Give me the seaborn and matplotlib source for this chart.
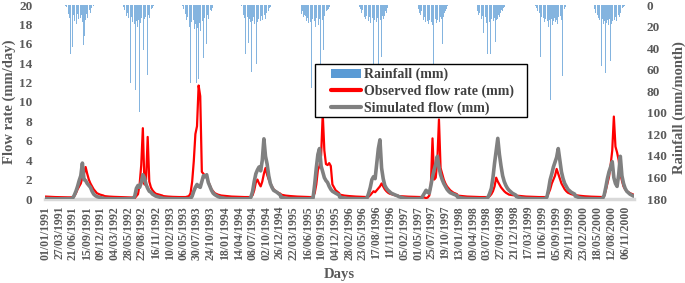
import pandas as pd
import seaborn as sns
import matplotlib.pyplot as plt
from matplotlib.lines import Line2D
from matplotlib.patches import Patch, Rectangle

years = list(range(1991, 2001))

# day-of-year sample points
flow_doy = [0, 30, 60, 100, 140, 160, 170, 180, 190, 200, 210, 220,
            230, 240, 250, 260, 270, 280, 290, 300, 310, 320, 340, 362]

# observed flow rate (mm/day), one row per year
observed = [
    0.25, 0.22, 0.20, 0.18, 0.17, 0.17, 0.20, 0.30, 0.60, 1.00, 1.30, 1.60, 2.20, 2.60, 3.30, 2.60, 2.00, 1.60, 1.30, 1.00, 0.80, 0.60, 0.45, 0.35,
    0.30, 0.25, 0.22, 0.20, 0.18, 0.17, 0.16, 0.15, 0.10, 0.30, 0.50, 1.50, 3.50, 7.30, 1.50, 2.00, 6.40, 1.80, 1.20, 0.90, 0.70, 0.55, 0.45, 0.35,
    0.30, 0.25, 0.22, 0.20, 0.20, 0.30, 0.60, 1.80, 3.90, 6.70, 7.50, 11.70, 10.60, 2.80, 2.60, 2.40, 2.30, 1.80, 1.40, 1.00, 0.80, 0.60, 0.45, 0.35,
    0.35, 0.30, 0.25, 0.22, 0.20, 0.20, 0.20, 0.25, 0.40, 0.90, 1.70, 2.00, 1.60, 1.30, 1.80, 2.60, 3.20, 2.50, 2.00, 1.60, 1.30, 1.00, 0.70, 0.55,
    0.45, 0.35, 0.30, 0.25, 0.22, 0.20, 0.20, 0.20, 0.20, 0.25, 0.60, 1.50, 3.00, 3.40, 4.50, 8.80, 5.00, 3.60, 3.50, 3.70, 3.40, 1.50, 0.90, 0.60,
    0.45, 0.35, 0.30, 0.25, 0.22, 0.20, 0.20, 0.25, 0.40, 0.60, 0.80, 0.70, 0.90, 1.10, 1.30, 1.60, 1.30, 1.00, 0.80, 0.65, 0.55, 0.50, 0.40, 0.35,
    0.30, 0.27, 0.24, 0.22, 0.20, 0.15, 0.10, 0.15, 0.35, 1.50, 6.25, 2.00, 2.20, 4.00, 8.20, 3.20, 2.60, 2.00, 1.60, 1.30, 1.10, 0.90, 0.65, 0.50,
    0.35, 0.30, 0.25, 0.22, 0.20, 0.20, 0.20, 0.20, 0.20, 0.30, 0.50, 0.80, 1.30, 2.20, 1.80, 1.50, 1.20, 1.00, 0.80, 0.65, 0.55, 0.45, 0.40, 0.35,
    0.35, 0.30, 0.25, 0.22, 0.20, 0.20, 0.20, 0.20, 0.25, 0.60, 1.00, 1.60, 2.00, 2.40, 3.10, 2.60, 2.10, 1.60, 1.30, 1.00, 0.80, 0.65, 0.50, 0.40,
    0.40, 0.33, 0.28, 0.24, 0.22, 0.20, 0.20, 0.30, 0.90, 1.60, 2.30, 3.50, 5.00, 8.50, 5.40, 4.80, 4.00, 2.60, 1.90, 1.30, 1.00, 0.80, 0.60, 0.45,
]

# simulated flow (mm/day), one row per year
simulated = [
    0.05, 0.03, 0.02, 0.02, 0.02, 0.03, 0.10, 0.40, 0.80, 1.30, 1.90, 2.40, 3.70, 2.00, 1.90, 1.60, 1.40, 1.20, 0.80, 0.50, 0.35, 0.25, 0.15, 0.08,
    0.05, 0.03, 0.02, 0.02, 0.02, 0.02, 0.03, 0.05, 0.30, 1.10, 1.40, 1.20, 1.70, 2.50, 2.20, 1.50, 1.10, 0.80, 0.70, 0.50, 0.40, 0.30, 0.20, 0.10,
    0.08, 0.04, 0.03, 0.02, 0.02, 0.03, 0.05, 0.30, 0.80, 1.20, 1.50, 1.30, 1.20, 1.80, 2.40, 2.30, 2.50, 1.70, 1.30, 0.90, 0.60, 0.45, 0.25, 0.12,
    0.12, 0.05, 0.03, 0.02, 0.02, 0.02, 0.03, 0.20, 0.80, 1.80, 2.60, 3.00, 3.30, 2.90, 4.00, 6.20, 4.40, 3.60, 2.40, 1.60, 1.20, 0.90, 0.70, 0.40,
    0.20, 0.08, 0.04, 0.03, 0.02, 0.02, 0.02, 0.03, 0.05, 0.10, 1.50, 3.20, 4.60, 5.20, 3.40, 2.80, 2.20, 1.90, 1.70, 1.30, 1.00, 0.80, 0.60, 0.40,
    0.20, 0.10, 0.05, 0.03, 0.02, 0.03, 0.10, 0.60, 1.20, 2.00, 2.30, 2.10, 3.60, 5.20, 6.10, 3.20, 2.10, 1.40, 1.10, 0.90, 0.75, 0.60, 0.45, 0.30,
    0.25, 0.10, 0.05, 0.03, 0.05, 0.60, 0.90, 0.70, 0.60, 1.40, 2.30, 3.00, 3.60, 4.40, 3.30, 2.50, 2.00, 1.60, 1.30, 1.00, 0.80, 0.65, 0.50, 0.35,
    0.20, 0.10, 0.05, 0.03, 0.02, 0.02, 0.03, 0.05, 0.20, 0.60, 1.10, 2.20, 3.70, 5.00, 6.25, 4.60, 3.40, 2.40, 1.80, 1.40, 1.10, 0.90, 0.60, 0.40,
    0.25, 0.10, 0.05, 0.03, 0.02, 0.02, 0.03, 0.05, 0.20, 1.00, 2.00, 2.60, 3.30, 3.80, 4.30, 5.20, 4.00, 2.80, 2.10, 1.60, 1.30, 1.00, 0.70, 0.50,
    0.30, 0.12, 0.05, 0.03, 0.02, 0.02, 0.05, 0.40, 1.20, 2.10, 2.80, 3.30, 3.85, 2.20, 1.60, 1.30, 2.50, 4.40, 2.40, 1.60, 1.10, 0.80, 0.50, 0.30,
]

# rainfall (mm), wet season every 5 days from day 120 to 305
rain_doy = list(range(120, 310, 5))
rainfall = [
    0, 1, 2, 4, 6, 8, 12, 45, 10, 14, 39, 9, 15, 26, 11, 18, 8, 13, 10, 31, 12, 9, 16, 37, 11, 29, 14, 8, 12, 6, 9, 5, 7, 3, 4, 2, 1, 0,
    2, 5, 8, 6, 10, 7, 12, 9, 14, 72, 11, 16, 52, 13, 18, 79, 15, 20, 88, 14, 99, 17, 12, 19, 15, 42, 13, 11, 16, 10, 65, 9, 12, 6, 8, 4, 3, 1,
    1, 4, 7, 10, 8, 14, 11, 17, 13, 20, 72, 16, 62, 19, 14, 22, 18, 72, 15, 21, 69, 17, 24, 13, 19, 15, 49, 12, 18, 10, 36, 9, 13, 7, 9, 5, 6, 3,
    1, 4, 6, 9, 12, 45, 10, 14, 11, 35, 13, 16, 12, 62, 15, 11, 18, 14, 12, 55, 16, 13, 19, 11, 15, 10, 14, 53, 12, 9, 13, 7, 10, 5, 6, 3, 2, 1,
    2, 5, 8, 6, 11, 9, 13, 10, 15, 12, 17, 14, 35, 16, 77, 13, 18, 57, 15, 20, 12, 17, 14, 19, 13, 60, 15, 11, 14, 42, 10, 8, 11, 6, 5, 4, 2, 1,
    0, 2, 4, 7, 5, 9, 8, 11, 13, 10, 35, 12, 15, 11, 17, 13, 16, 12, 57, 14, 18, 13, 16, 12, 57, 15, 11, 14, 48, 10, 13, 8, 10, 6, 7, 3, 2, 1,
    2, 4, 7, 9, 6, 12, 10, 14, 11, 16, 13, 62, 15, 18, 14, 20, 102, 16, 19, 70, 15, 21, 13, 17, 14, 42, 12, 16, 11, 13, 36, 9, 11, 7, 6, 4, 2, 1,
    3, 6, 9, 7, 11, 8, 13, 10, 26, 12, 15, 11, 17, 45, 14, 12, 16, 45, 13, 18, 11, 15, 12, 34, 14, 10, 13, 9, 11, 7, 9, 5, 6, 3, 2, 1, 0, 0,
    1, 3, 6, 8, 10, 7, 48, 11, 9, 14, 12, 16, 13, 18, 11, 15, 20, 14, 88, 17, 13, 19, 15, 12, 45, 16, 14, 18, 11, 15, 12, 10, 14, 66, 9, 6, 4, 2,
    4, 7, 10, 41, 9, 12, 14, 11, 16, 57, 13, 18, 15, 20, 63, 17, 14, 19, 16, 13, 52, 18, 15, 12, 17, 14, 11, 15, 10, 13, 9, 11, 7, 8, 5, 3, 2, 1,
]

tick_labels = [
    "01/01/1991", "27/03/1991", "21/06/1991", "15/09/1991", "09/12/1991", "04/03/1992",
    "28/05/1992", "22/08/1992", "16/11/1992", "10/02/1993", "06/05/1993", "30/07/1993",
    "24/10/1993", "18/01/1994", "14/04/1994", "08/07/1994", "02/10/1994", "26/12/1994",
    "22/03/1995", "16/06/1995", "10/09/1995", "04/12/1995", "28/02/1996", "23/05/1996",
    "17/08/1996", "11/11/1996", "05/02/1997", "01/05/1997", "25/07/1997", "19/10/1997",
    "13/01/1998", "09/04/1998", "03/07/1998", "27/09/1998", "21/12/1998", "17/03/1999",
    "11/06/1999", "05/09/1999", "29/11/1999", "23/02/2000", "18/05/2000", "12/08/2000",
    "06/11/2000",
]

# Build tables
flow_rows = []
rain_rows = []
for k, yr in enumerate(years):
    start = pd.Timestamp(f"{yr}-01-01")
    for j, d in enumerate(flow_doy):
        i = k * len(flow_doy) + j
        flow_rows.append((start + pd.Timedelta(days=d), observed[i], simulated[i]))
    for j, d in enumerate(rain_doy):
        rain_rows.append((start + pd.Timedelta(days=d), rainfall[k * len(rain_doy) + j]))
flow = pd.DataFrame(flow_rows, columns=["date", "observed", "simulated"])
rain = pd.DataFrame(rain_rows, columns=["date", "rain"])

sns.set_style("white")
plt.rcParams["font.family"] = ["Liberation Serif", "DejaVu Serif"]
plt.rcParams["font.weight"] = "bold"

txt = "#595959"
fig = plt.figure(figsize=(6.85, 2.83), dpi=100)
ax = fig.add_axes([45 / 685, 1 - 199 / 283, 589 / 685, 194 / 283])
ax2 = ax.twinx()

# Rainfall hanging from the top on the secondary axis
ax2.bar(rain["date"], rain["rain"], width=4, color="#5b9bd5", alpha=0.75, linewidth=0)
ax2.set_ylim(180, 0)
ax2.set_yticks(range(0, 181, 20))
ax2.tick_params(axis="y", length=0, labelsize=9.5, labelcolor=txt, pad=9)
ax2.set_ylabel("Rainfall (mm/month)", fontsize=10.5, color=txt, fontweight="bold", rotation=90)
ax2.yaxis.set_label_coords(1.066, 0.47)

# Flow lines above the bars
ax.set_zorder(ax2.get_zorder() + 1)
ax.patch.set_visible(False)
sns.lineplot(data=flow, x="date", y="observed", ax=ax, color="#ff0000", lw=1.6, zorder=3, legend=False)
sns.lineplot(data=flow, x="date", y="simulated", ax=ax, color="#808080", lw=2.6, zorder=4, legend=False)

ax.set_ylim(0, 20)
ax.set_yticks(range(0, 21, 2))
ax.set_xlim(pd.Timestamp("1990-12-30"), pd.Timestamp("2000-12-31"))
ticks = pd.to_datetime(tick_labels, format="%d/%m/%Y")
ax.set_xticks(ticks)
ax.set_xticklabels(tick_labels, rotation=90, fontsize=8.5, color=txt)
ax.tick_params(axis="x", length=0, pad=5)
ax.tick_params(axis="y", length=0, labelsize=9.5, labelcolor=txt, pad=9)

for a in (ax, ax2):
    for s in a.spines.values():
        s.set_visible(False)
ax.spines["bottom"].set_visible(True)
ax.spines["bottom"].set_color("#d9d9d9")
ax.spines["bottom"].set_linewidth(2.5)

ax.set_ylabel("Flow rate (mm/day)", fontsize=10.5, color=txt, fontweight="bold")
ax.yaxis.set_label_coords(-0.05, 0.5)
ax.set_xlabel("Days", fontsize=10.5, color=txt, fontweight="bold", va="top")
ax.xaxis.set_label_coords(0.5, -0.356)

# Legend box drawn separately to get the wider left padding
ax.add_patch(Rectangle((315 / 685, 1 - 117 / 283), 212 / 685, 53 / 283,
                       transform=fig.transFigure, facecolor="white", edgecolor="black",
                       lw=1, zorder=5, clip_on=False))
handles = [
    Patch(facecolor="#5b9bd5", edgecolor="none"),
    Line2D([], [], color="#ff0000", lw=3),
    Line2D([], [], color="#808080", lw=3),
]
leg = ax.legend(handles, ["Rainfall (mm)", "Observed flow rate (mm)", "Simulated flow (mm)"],
                loc="upper left", bbox_to_anchor=(328 / 685, 1 - 65 / 283),
                bbox_transform=fig.transFigure, borderaxespad=0, frameon=False,
                fontsize=10, handlelength=2.2, handleheight=0.6, labelspacing=0.25,
                handletextpad=0.2, borderpad=0.2)
leg.set_zorder(6)
for t in leg.get_texts():
    t.set_color("#404040")

fig.savefig("out.png", dpi=100)
